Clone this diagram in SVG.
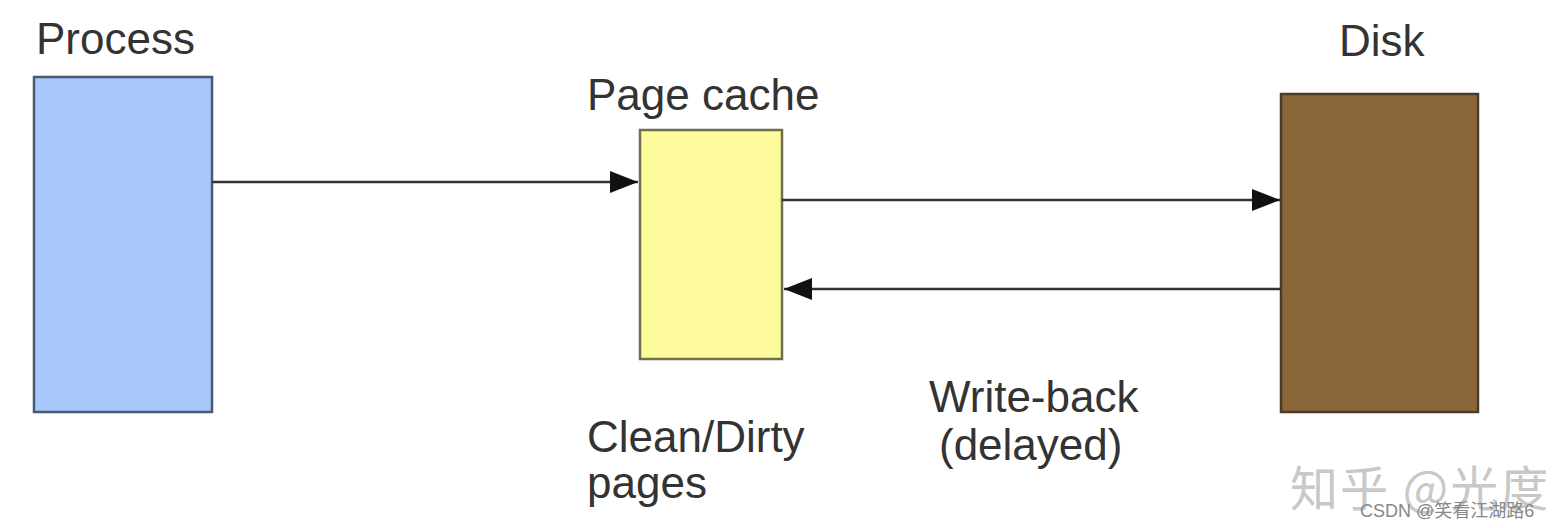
<svg xmlns="http://www.w3.org/2000/svg" width="1558" height="528" viewBox="0 0 1558 528">
<defs>
<style>
.lbl{font-family:"Liberation Sans",Arial,sans-serif;font-size:44px;fill:#333}
.box{stroke-width:2.5}
.conn{stroke:#333;stroke-width:2.5;fill:none}
.wm{font-family:"Noto Sans CJK SC",sans-serif;fill:#c8c8c8}
</style>
<marker id="ah" viewBox="0 0 10 10" refX="10" refY="5" markerWidth="28" markerHeight="22" markerUnits="userSpaceOnUse" orient="auto" preserveAspectRatio="none">
<path d="M0,0 L10,5 L0,10 Z" fill="#111"/>
</marker>
</defs>
<rect width="1558" height="528" fill="#fff"/>
<g id="process">
<rect class="box" x="34" y="77" width="178" height="335" fill="#a8c8fc" stroke="#4a5870"/>
<text class="lbl" x="36" y="54">Process</text>
</g>
<g id="pagecache">
<rect class="box" x="640" y="130" width="142" height="229" fill="#fdfb9c" stroke="#6e6e50"/>
<text class="lbl" x="587" y="110">Page cache</text>
<text class="lbl" x="587" y="452">Clean/Dirty</text>
<text class="lbl" x="587" y="498">pages</text>
</g>
<g id="disk">
<rect class="box" x="1281" y="94" width="197" height="318" fill="#8a6638" stroke="#4a3c2c"/>
<text class="lbl" x="1339" y="56">Disk</text>
</g>
<g id="connectors">
<line class="conn" x1="212" y1="182" x2="638" y2="182" marker-end="url(#ah)"/>
<line class="conn" x1="782" y1="200" x2="1280" y2="200" marker-end="url(#ah)"/>
<line class="conn" x1="1281" y1="289" x2="784" y2="289" marker-end="url(#ah)"/>
<text class="lbl" x="929" y="412">Write-back</text>
<text class="lbl" x="939" y="460">(delayed)</text>
</g>
<g id="watermark">
<text class="wm" x="1290" y="506" font-size="48" letter-spacing="2">知乎 @光度</text>
<text x="1360" y="517" font-family="Liberation Sans, Noto Sans CJK SC, sans-serif" font-size="18" fill="#888">CSDN @笑看江湖路6</text>
</g>
</svg>
